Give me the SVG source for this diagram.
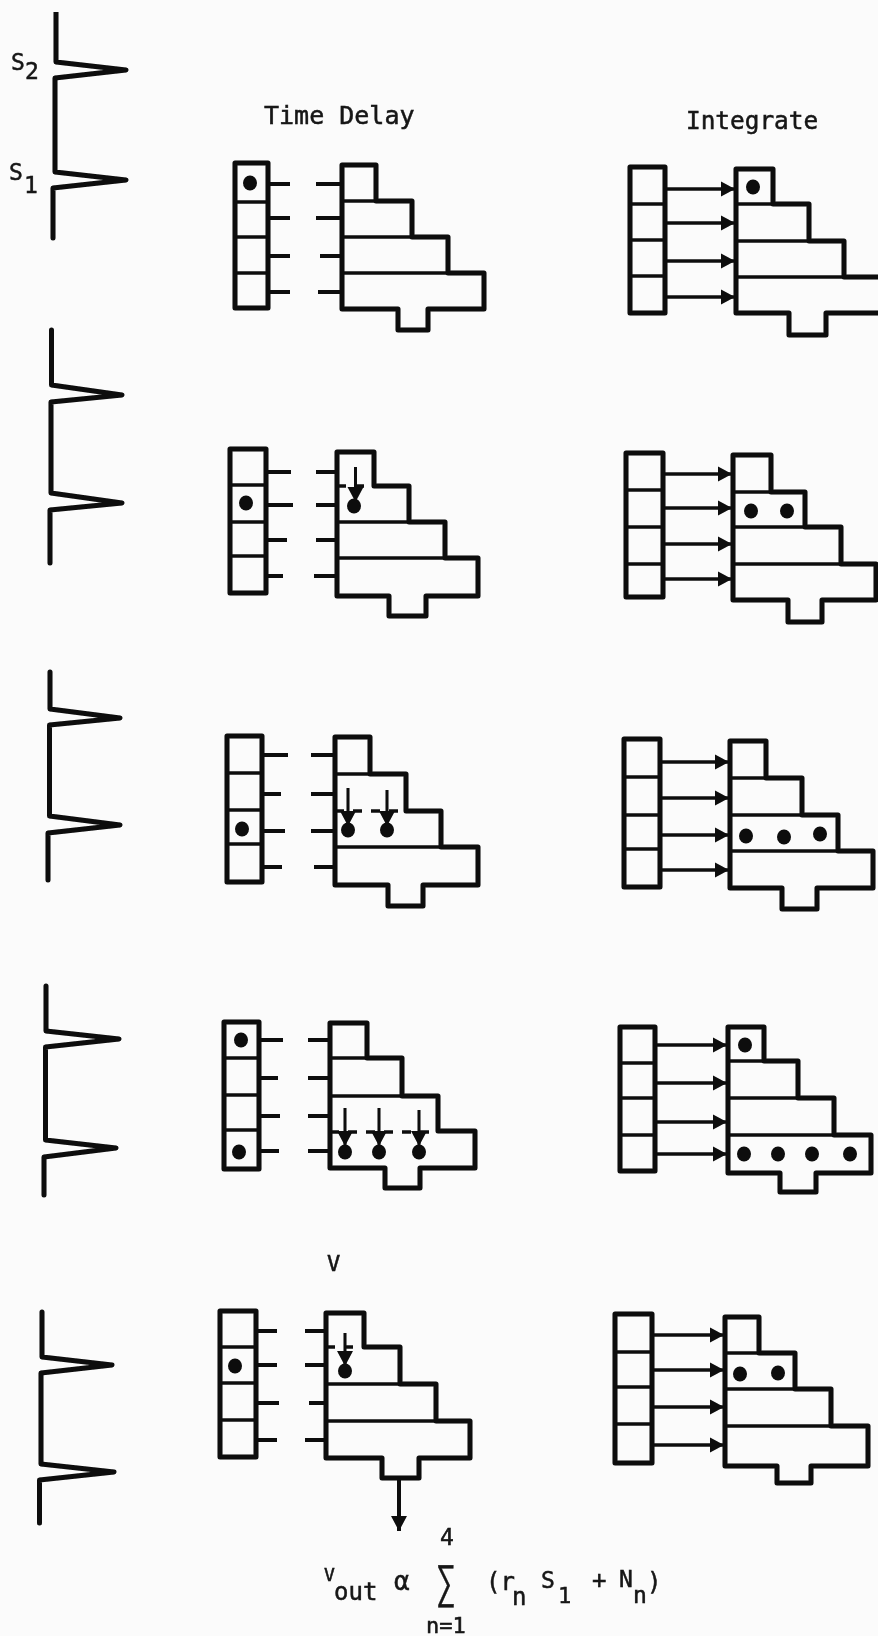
<svg xmlns="http://www.w3.org/2000/svg" width="878" height="1636" viewBox="0 0 878 1636">
<style>
.o{fill:none;stroke:#0a0a0a;stroke-width:5;stroke-linejoin:round;stroke-linecap:round}
.p{fill:none;stroke:#0a0a0a;stroke-width:5;stroke-linejoin:round;stroke-linecap:round}
.i{fill:none;stroke:#0a0a0a;stroke-width:3.6;stroke-linecap:butt}
.d{fill:none;stroke:#0a0a0a;stroke-width:3.6;stroke-dasharray:9 9}
.s{fill:none;stroke:#0a0a0a;stroke-width:4}
.a{fill:none;stroke:#0a0a0a;stroke-width:3.6;marker-end:url(#ah)}
.v{fill:none;stroke:#0a0a0a;stroke-width:3;marker-end:url(#av)}
.n{fill:#0a0a0a}
text{font-family:"DejaVu Sans Mono","Liberation Mono",monospace;fill:#141414;stroke:#141414;stroke-width:.5}
.l{font-size:25px}
.m{font-size:23px}
</style>
<defs>
<marker id="ah" markerUnits="userSpaceOnUse" markerWidth="15" markerHeight="16" refX="14" refY="8" orient="auto"><path d="M0,0.5 L14,8 L0,15.5 Z" fill="#0a0a0a"/></marker>
<marker id="av" markerUnits="userSpaceOnUse" markerWidth="16" markerHeight="17" refX="15" refY="8.5" orient="auto"><path d="M0,0.5 L15,8.5 L0,16.5 Z" fill="#0a0a0a"/></marker>
<filter id="soft" x="0" y="0" width="1" height="1"><feGaussianBlur stdDeviation="0.6"/></filter>
</defs>
<rect width="878" height="1636" fill="#fbfbfb"/>
<g filter="url(#soft)">
<g id="titles">
<text class="l" x="264" y="124">Time Delay</text>
<text class="l" x="686" y="129" style="font-size:24.4px">Integrate</text>
<text class="m" x="11" y="70">S</text><text class="m" x="25" y="79">2</text>
<text class="m" x="9" y="180">S</text><text class="m" x="24" y="193">1</text>
</g>

<g id="pulses">
<path id="pulse-1" class="p" d="M56,12 V62 L126,70 L55,78 V172 L126,180 L53,188 V238"/>
<path id="pulse-2" class="p" d="M51.5,330 V385 L122,395 L51,402 V493 L122,503 L50,510 V563"/>
<path id="pulse-3" class="p" d="M50,672 V709 L120,718 L49.5,725 V816 L120,825 L48,833 V880"/>
<path id="pulse-4" class="p" d="M46,986 V1031 L119,1039 L45.5,1047 V1140 L116,1148 L44,1157 V1195"/>
<path id="pulse-5" class="p" d="M42,1312 V1357 L112,1365 L41,1373 V1464 L114,1472 L39.5,1480 V1523"/>
</g>

<g id="connectors">
<path class="s" d="M268,184H290M316,184H342M268,218H290M316,218H342M268,256H290M320,256H342M268,292H290M318,292H342"/>
<path class="s" d="M266,472H291M316,472H337M266,505H293M316,505H337M266,540H287M316,540H337M266,576H283M314,576H337"/>
<path class="s" d="M262,755H288M311,755H335M262,794H281M311,794H335M262,831H285M311,831H335M262,867H282M314,867H335"/>
<path class="s" d="M259,1040H283M308,1040H330M259,1078H278M308,1078H330M259,1116H280M308,1116H330M259,1151H279M308,1151H330"/>
<path class="s" d="M256,1331H277M305,1331H326M256,1365H277M305,1365H326M256,1403H279M309,1403H326M256,1440H277M305,1440H326"/>
<path class="a" d="M665,189H735"/><path class="a" d="M665,223H735"/><path class="a" d="M665,261H735"/><path class="a" d="M665,297H735"/>
<path class="a" d="M663,474H732"/><path class="a" d="M663,508H732"/><path class="a" d="M663,544H732"/><path class="a" d="M663,579H732"/>
<path class="a" d="M660,762H729"/><path class="a" d="M660,798H729"/><path class="a" d="M660,835H729"/><path class="a" d="M660,870H729"/>
<path class="a" d="M655,1045H727"/><path class="a" d="M655,1083H727"/><path class="a" d="M655,1122H727"/><path class="a" d="M655,1154H727"/>
<path class="a" d="M652,1335H724"/><path class="a" d="M652,1370H724"/><path class="a" d="M652,1407H724"/><path class="a" d="M652,1445H724"/>
<path class="v" d="M355.5,467V502"/>
<path class="v" d="M348,788V826"/><path class="v" d="M387,790V826"/>
<path class="v" d="M345,1108V1146"/><path class="v" d="M379,1108V1146"/><path class="v" d="M419,1110V1146"/>
<path class="v" d="M345,1333V1366"/>
<path style="fill:none;stroke:#0a0a0a;stroke-width:4;marker-end:url(#av)" d="M399,1478V1531"/>
</g>

<g id="delay-reg-1"><rect class="o" x="235" y="163" width="33" height="145"/><path class="i" d="M235,202H268M235,237H268M235,273H268"/><ellipse class="n" cx="250" cy="183" rx="7" ry="7.5"/></g>
<g id="delay-stair-1"><path class="o" d="M342,165H376V201H412V237H448V273H484V309H428V330H398V309H342Z"/><path class="i" d="M342,201H376M342,237H412M342,273H448"/></g>
<g id="int-reg-1"><rect class="o" x="630" y="167" width="35" height="146"/><path class="i" d="M630,204H665M630,240H665M630,276H665"/></g>
<g id="int-stair-1"><path class="o" d="M736,169H773V204H809V241H844V277H884V313H826V335H789V313H736Z"/><path class="i" d="M736,204H773M736,241H809M736,277H844"/><ellipse class="n" cx="753" cy="187" rx="7" ry="7.5"/></g>

<g id="delay-reg-2"><rect class="o" x="230" y="449" width="36" height="144"/><path class="i" d="M230,485H266M230,522H266M230,556H266"/><ellipse class="n" cx="246" cy="503" rx="7" ry="7.5"/></g>
<g id="delay-stair-2"><path class="o" d="M337,452H374V486H409V522H445V558H478V596H426V616H389V596H337Z"/><path class="i" d="M337,522H409M337,558H445"/><path class="d" d="M337,486H374"/><ellipse class="n" cx="354" cy="506" rx="7" ry="7.5"/></g>
<g id="int-reg-2"><rect class="o" x="626" y="453" width="37" height="144"/><path class="i" d="M626,490H663M626,527H663M626,564H663"/></g>
<g id="int-stair-2"><path class="o" d="M733,455H771V492H805V527H841V564H876V600H822V622H788V600H733Z"/><path class="i" d="M733,492H771M733,527H805M733,564H841"/><ellipse class="n" cx="751" cy="511" rx="7" ry="7.5"/><ellipse class="n" cx="787" cy="511" rx="7" ry="7.5"/></g>

<g id="delay-reg-3"><rect class="o" x="227" y="736" width="35" height="146"/><path class="i" d="M227,773H262M227,810H262M227,844H262"/><ellipse class="n" cx="242" cy="829" rx="7" ry="7.5"/></g>
<g id="delay-stair-3"><path class="o" d="M335,737H370V774H406V811H441V847H478V885H423V906H388V885H335Z"/><path class="i" d="M335,774H370M335,847H441"/><path class="d" d="M335,811H406"/><ellipse class="n" cx="348" cy="830" rx="7" ry="7.5"/><ellipse class="n" cx="387" cy="830" rx="7" ry="7.5"/></g>
<g id="int-reg-3"><rect class="o" x="624" y="739" width="36" height="148"/><path class="i" d="M624,777H660M624,815H660M624,849H660"/></g>
<g id="int-stair-3"><path class="o" d="M730,741H766V778H802V815H838V851H873V888H817V909H782V888H730Z"/><path class="i" d="M730,778H766M730,815H802M730,851H838"/><ellipse class="n" cx="746" cy="836" rx="7" ry="7.5"/><ellipse class="n" cx="784" cy="837" rx="7" ry="7.5"/><ellipse class="n" cx="820" cy="834" rx="7" ry="7.5"/></g>

<g id="delay-reg-4"><rect class="o" x="224" y="1022" width="35" height="147"/><path class="i" d="M224,1058H259M224,1095H259M224,1130H259"/><ellipse class="n" cx="241" cy="1040" rx="7" ry="7.5"/><ellipse class="n" cx="239" cy="1152" rx="7" ry="7.5"/></g>
<g id="delay-stair-4"><path class="o" d="M330,1023H367V1058H402V1096H438V1131H475V1168H420V1188H385V1168H330Z"/><path class="i" d="M330,1058H367M330,1096H402"/><path class="d" d="M330,1132H438"/><ellipse class="n" cx="345" cy="1152" rx="7" ry="7.5"/><ellipse class="n" cx="379" cy="1152" rx="7" ry="7.5"/><ellipse class="n" cx="419" cy="1152" rx="7" ry="7.5"/></g>
<g id="int-reg-4"><rect class="o" x="620" y="1027" width="35" height="144"/><path class="i" d="M620,1063H655M620,1098H655M620,1135H655"/></g>
<g id="int-stair-4"><path class="o" d="M728,1027H764V1061H798V1098H834V1135H871V1173H816V1192H780V1173H728Z"/><path class="i" d="M728,1061H764M728,1098H798M728,1135H834"/><ellipse class="n" cx="745" cy="1045" rx="7" ry="7.5"/><ellipse class="n" cx="744" cy="1154" rx="7" ry="7.5"/><ellipse class="n" cx="778" cy="1154" rx="7" ry="7.5"/><ellipse class="n" cx="812" cy="1154" rx="7" ry="7.5"/><ellipse class="n" cx="850" cy="1154" rx="7" ry="7.5"/></g>

<g id="delay-reg-5"><rect class="o" x="220" y="1311" width="36" height="146"/><path class="i" d="M220,1347H256M220,1383H256M220,1420H256"/><ellipse class="n" cx="235" cy="1366" rx="7" ry="7.5"/></g>
<g id="delay-stair-5"><path class="o" d="M326,1313H364V1347H400V1384H436V1421H470V1458H419V1478H382V1458H326Z"/><path class="i" d="M326,1384H400M326,1421H436"/><path class="d" d="M326,1347H364"/><ellipse class="n" cx="345" cy="1371" rx="7" ry="7.5"/></g>
<g id="int-reg-5"><rect class="o" x="615" y="1314" width="37" height="149"/><path class="i" d="M615,1352H652M615,1387H652M615,1424H652"/></g>
<g id="int-stair-5"><path class="o" d="M725,1317H759V1353H795V1389H831V1426H868V1466H811V1483H777V1466H725Z"/><path class="i" d="M725,1353H759M725,1389H795M725,1426H831"/><ellipse class="n" cx="740" cy="1374" rx="7" ry="7.5"/><ellipse class="n" cx="778" cy="1373" rx="7" ry="7.5"/></g>

<g id="formula">
<text x="327" y="1271" style="font-size:22px">V</text>
<text x="324" y="1581" style="font-size:18px">V</text>
<text x="334" y="1600" style="font-size:24px">out</text>
<text x="394" y="1590" style="font-size:26px">α</text>
<text x="440" y="1545" style="font-size:23px">4</text>
<text x="436" y="1598" textLength="20" lengthAdjust="spacingAndGlyphs" style="font-size:44px">∑</text>
<text x="486" y="1590" style="font-size:24px">(r</text>
<text x="512" y="1605" style="font-size:24px">n</text>
<text x="541" y="1588" style="font-size:23px">S</text>
<text x="558" y="1603" style="font-size:22px">1</text>
<text x="592" y="1588" style="font-size:24px">+</text>
<text x="619" y="1587" style="font-size:23px">N</text>
<text x="633" y="1603" style="font-size:23px">n</text>
<text x="647" y="1590" style="font-size:24px">)</text>
<text x="426" y="1633" style="font-size:22px">n=1</text>
</g>
</g>
</svg>
